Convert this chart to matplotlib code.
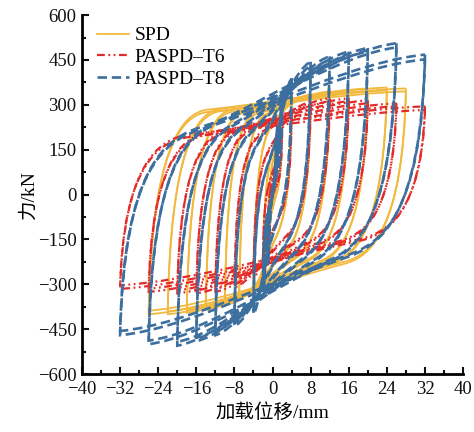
import matplotlib
matplotlib.use('Agg')
import matplotlib.pyplot as plt
from matplotlib.path import Path
from matplotlib.patches import PathPatch
from matplotlib.lines import Line2D
from matplotlib.ticker import MultipleLocator

# Loading levels (mm) and peak forces (kN) for each specimen, two cycles per level
spd_amp_pos = [1, 2, 4, 8, 12, 16, 20, 24, 28]
spd_amp_neg = [1, 2, 4, 7, 10, 14, 18, 22, 26]
spd_fp_c1 = [200, 270, 310, 335, 345, 350, 355, 358, 355]
spd_fp_c2 = [190, 262, 302, 326, 336, 342, 346, 348, 345]
spd_fn_c1 = [-200, -280, -320, -350, -370, -385, -395, -400, -400]
spd_fn_c2 = [-192, -272, -312, -340, -360, -375, -385, -390, -388]

t6_amp_pos = [1, 2, 4, 8, 12, 16, 20, 26, 32]
t6_amp_neg = [1, 2, 4, 8, 12, 16, 20, 26, 32]
t6_fp_c1 = [150, 220, 270, 310, 322, 322, 315, 305, 295]
t6_fp_c2 = [142, 212, 262, 300, 312, 312, 305, 295, 283]
t6_fn_c1 = [-150, -220, -280, -310, -325, -330, -330, -325, -315]
t6_fn_c2 = [-142, -212, -270, -300, -315, -320, -320, -314, -303]

t8_amp_pos = [1, 2, 4, 8, 12, 16, 20, 26, 32]
t8_amp_neg = [1, 2, 4, 8, 12, 16, 20, 26, 32]
t8_fp_c1 = [230, 320, 390, 444, 462, 478, 490, 506, 468]
t8_fp_c2 = [220, 310, 380, 430, 450, 465, 478, 492, 452]
t8_fn_c1 = [-240, -330, -400, -440, -470, -490, -505, -500, -470]
t8_fn_c2 = [-230, -320, -390, -430, -458, -478, -492, -488, -456]

x_ticks = [-40, -32, -24, -16, -8, 0, 8, 16, 24, 32, 40]
y_ticks = [-600, -450, -300, -150, 0, 150, 300, 450, 600]

plt.rcParams['font.family'] = ['Liberation Serif', 'Noto Sans CJK SC']
plt.rcParams['axes.unicode_minus'] = True


def branch(x0, y0, x1, y1, w, ky, sign):
    """Reversal branch from a peak (x0, y0) through a rounded knee to the opposite peak (x1, y1)."""
    w = min(w, 0.8 * abs(x1 - x0))
    kx = x0 + sign * w
    span = abs(x1 - kx)
    s = (y1 - ky) / (x1 - kx)                     # plateau slope after the knee
    c1 = (x0 + sign * 0.05 * w, y0 + 0.8 * (ky - y0))
    c2 = (kx - sign * 0.45 * w, ky - sign * 0.45 * w * s)
    c3 = (kx + sign * 0.3 * span, ky + sign * 0.3 * span * s)
    c4 = (x1 - sign * 0.3 * span, y1 - sign * 0.3 * span * 0.3 * s)
    return [c1, c2, (kx, ky), c3, c4, (x1, y1)]


def loop_path(d_pos, d_neg, fp, fn, knee_w, knee_up, knee_dn):
    verts = [(d_pos, fp)]
    verts += branch(d_pos, fp, -d_neg, fn, knee_w * d_pos + 3, knee_dn * abs(fn), -1)
    verts += branch(-d_neg, fn, d_pos, fp, knee_w * d_neg + 3, knee_up * fp, 1)
    codes = [Path.MOVETO] + [Path.CURVE4] * 12
    return Path(verts, codes)


fig, ax = plt.subplots(figsize=(4.74, 4.32), dpi=100)
fig.subplots_adjust(left=0.173, right=0.977, bottom=0.134, top=0.965)

series = [
    ('SPD', '#F2B93E', '-', 1.3, spd_amp_pos, spd_amp_neg,
     [spd_fp_c1, spd_fp_c2], [spd_fn_c1, spd_fn_c2], 0.36, 0.80, -0.58),
    ('PASPD\u2013T6', '#E52A2A', (0, (3.5, 1.6, 0.8, 1.6, 0.8, 1.6)), 1.6, t6_amp_pos, t6_amp_neg,
     [t6_fp_c1, t6_fp_c2], [t6_fn_c1, t6_fn_c2], 0.36, 0.68, -0.50),
    ('PASPD\u2013T8', '#3C6E9E', (0, (3.6, 1.8)), 1.9, t8_amp_pos, t8_amp_neg,
     [t8_fp_c1, t8_fp_c2], [t8_fn_c1, t8_fn_c2], 0.43, 0.48, -0.45),
]

handles = []
for label, color, ls, lw, amp_p, amp_n, fps, fns, kw, ku, kd in series:
    for fp_list, fn_list in zip(fps, fns):
        for dp, dn, fp, fn in zip(amp_p, amp_n, fp_list, fn_list):
            patch = PathPatch(loop_path(dp, dn, fp, fn, kw, ku, kd), fill=False,
                              edgecolor=color, linestyle=ls, linewidth=lw, capstyle='butt')
            ax.add_patch(patch)
    handles.append(Line2D([], [], color=color, linestyle=ls, linewidth=lw, label=label))

ax.set_xlim(-40, 40)
ax.set_ylim(-600, 600)
ax.set_xticks(x_ticks)
ax.set_yticks(y_ticks)
ax.xaxis.set_minor_locator(MultipleLocator(4))
ax.yaxis.set_minor_locator(MultipleLocator(75))
ax.tick_params(which='both', direction='in', width=1.5, labelsize=13.5, colors='#111111')
ax.tick_params(which='major', length=5)
ax.tick_params(which='minor', length=3)
ax.tick_params(axis='x', pad=5)
ax.tick_params(axis='y', pad=4)
for side in ('top', 'right'):
    ax.spines[side].set_visible(False)
for side in ('left', 'bottom'):
    ax.spines[side].set_linewidth(2)

ax.set_xlabel('加载位移/mm', fontsize=14, labelpad=4)
ax.set_ylabel('力/kN', fontsize=14, labelpad=0)

ax.legend(handles=handles, loc='upper left', bbox_to_anchor=(0.01, 1.0), frameon=False,
          fontsize=14, handlelength=1.6, handletextpad=0.3, labelspacing=0.22, borderaxespad=0.2)

fig.savefig('out.png', dpi=100)
plt.close(fig)
